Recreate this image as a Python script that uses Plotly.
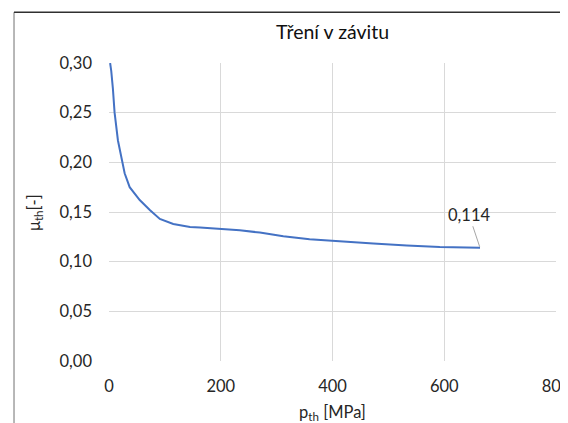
import plotly.graph_objects as go

# Data
p_th = [2, 4, 7, 10, 16, 25, 28, 37, 55, 73, 91, 115, 145, 163, 204, 222, 234,
        270, 312, 359, 413, 473, 533, 592, 664]
mu_th = [0.300, 0.292, 0.274, 0.250, 0.222, 0.197, 0.189, 0.175, 0.162, 0.152,
         0.143, 0.138, 0.135, 0.1345, 0.1328, 0.1322, 0.1316, 0.1293, 0.1255,
         0.1225, 0.1202, 0.1182, 0.1162, 0.1148, 0.114]
x_ticks = [0, 200, 400, 600, 800]
y_ticks = [0.00, 0.05, 0.10, 0.15, 0.20, 0.25, 0.30]
title_text = "Tření v závitu"
x_title = "p<sub>th</sub> [MPa]"
y_title = "μ<sub>th</sub>[-]"
last_label = "0,114"

FONT = "Lato"
TXT = "#262626"
GRID = "#D9D9D9"
FS = 16.5

fig = go.Figure()
fig.add_trace(go.Scatter(x=p_th, y=mu_th, mode="lines",
                         line=dict(color="#4472C4", width=2),
                         showlegend=False, hoverinfo="x+y"))

fig.add_annotation(x=p_th[-1], y=mu_th[-1], text=last_label, showarrow=True,
                   arrowhead=0, arrowwidth=1, arrowcolor="#A6A6A6",
                   ax=-11, ay=-33, standoff=1,
                   font=dict(family=FONT, size=FS, color=TXT))

# y-axis title placed as a rotated annotation
fig.add_annotation(x=-0.168, y=0.5, xref="paper", yref="paper", text=y_title,
                   showarrow=False, textangle=-90, xanchor="center",
                   yanchor="middle", font=dict(family=FONT, size=FS, color=TXT))

# chart frame
fig.add_shape(type="line", xref="paper", yref="paper",
              x0=-0.2125, x1=-0.2125, y0=-0.3, y1=1.170,
              line=dict(color="#A0A0A0", width=1.5))
fig.add_shape(type="line", xref="paper", yref="paper",
              x0=-0.2125, x1=1.1, y0=1.170, y1=1.170,
              line=dict(color="#303030", width=1.5))

# the page body has an 8px margin, so the figure is 8px smaller on each axis
fig.update_layout(
    width=560, height=415,
    margin=dict(l=101, r=12, t=55, b=62),
    paper_bgcolor="white", plot_bgcolor="white",
    separators=", ",
    font=dict(family=FONT, size=FS, color=TXT),
    title=dict(text=title_text, x=0.5, xref="paper", y=0.942, yref="container",
               xanchor="center", yanchor="middle",
               font=dict(family=FONT, size=19.5, color="#101010")),
    xaxis=dict(range=[0, 800], tickvals=x_ticks, showgrid=True, gridcolor=GRID,
               gridwidth=1, zeroline=False, showline=False, ticks="",
               ticklabelstandoff=13, ticklabeloverflow="allow", automargin=False,
               title=dict(text=x_title, standoff=11,
                          font=dict(family=FONT, size=FS, color=TXT))),
    yaxis=dict(range=[0, 0.30], tickvals=y_ticks, tickformat=".2f",
               showgrid=True, gridcolor=GRID, gridwidth=1, zeroline=False,
               showline=False, ticks="", ticklabelstandoff=16,
               ticklabeloverflow="allow", automargin=False),
)

fig.write_html("out.html")
